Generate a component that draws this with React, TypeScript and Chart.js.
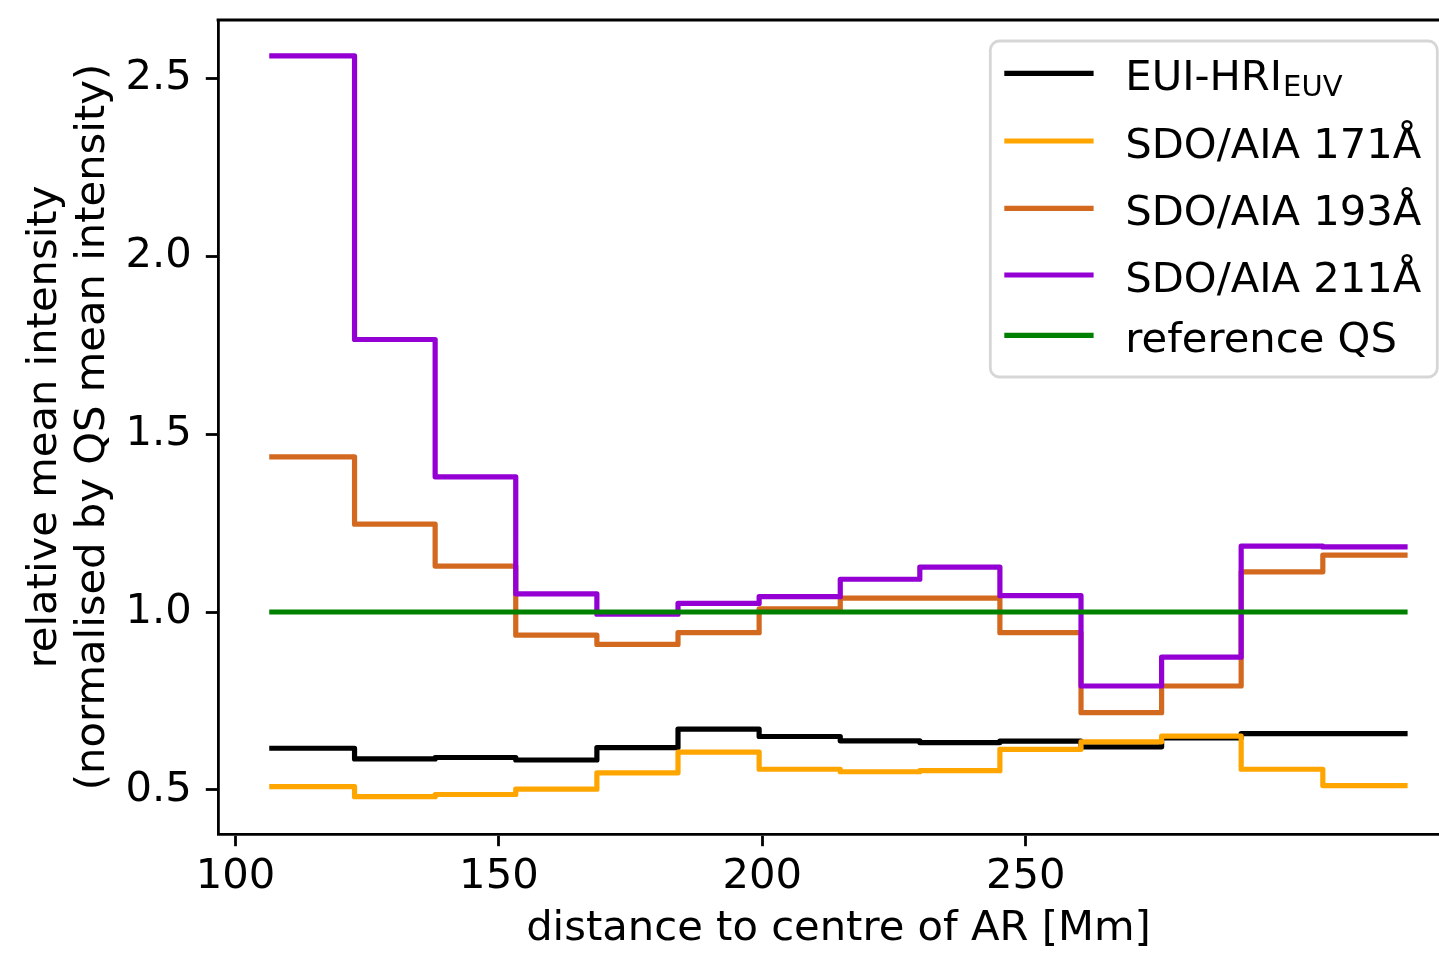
import React, { useEffect, useRef } from "react";
import { Chart, registerables } from "chart.js";

Chart.register(...registerables);

// ---- data ----
const binEdges = [106.9, 122.6, 137.9, 153.2, 168.6, 184.0, 199.4, 214.8, 229.9, 245.1, 260.5, 275.8, 290.9, 306.4, 322.0];
const euiHri = [0.617, 0.587, 0.591, 0.584, 0.619, 0.671, 0.650, 0.638, 0.633, 0.637, 0.621, 0.646, 0.658, 0.658];
const aia171 = [0.509, 0.481, 0.487, 0.502, 0.548, 0.606, 0.558, 0.551, 0.554, 0.614, 0.635, 0.651, 0.558, 0.512];
const aia193 = [1.436, 1.247, 1.129, 0.935, 0.909, 0.942, 1.009, 1.039, 1.039, 0.942, 0.717, 0.792, 1.113, 1.160];
const aia211 = [2.563, 1.766, 1.380, 1.051, 0.994, 1.024, 1.043, 1.092, 1.126, 1.046, 0.792, 0.873, 1.185, 1.183];
const qsReference = 1.0;

const seriesLabels = ["EUI-HRI_EUV", "SDO/AIA 171Å", "SDO/AIA 193Å", "SDO/AIA 211Å", "reference QS"];
const seriesColors = ["#000000", "#FFA500", "#D2691E", "#9400D3", "#008000"];

const xTickValues = [100, 150, 200, 250];
const yTickValues = [0.5, 1.0, 1.5, 2.0, 2.5];
const X_MIN = 96.68;
const X_MAX = 332.25;
const Y_MIN = 0.376;
const Y_MAX = 2.664;

const xTitle = "distance to centre of AR [Mm]";
const yTitle = ["relative mean intensity", "(normalised by QS mean intensity)"];

// ---- helpers ----
const FONT = "'DejaVu Sans', 'Liberation Sans', sans-serif";
const FS = 41.7;

const toSteps = (vals: number[]) => [
  ...vals.map((v, i) => ({ x: binEdges[i], y: v })),
  { x: binEdges[binEdges.length - 1], y: vals[vals.length - 1] },
];

const qsLine = [
  { x: binEdges[0], y: qsReference },
  { x: binEdges[binEdges.length - 1], y: qsReference },
];

const CANVAS_W = 1480;
const CANVAS_H = 954;

const spinePlugin = {
  id: "topSpine",
  afterDatasetsDraw(chart: any) {
    const { ctx, chartArea: ca } = chart;
    ctx.save();
    ctx.strokeStyle = "#000";
    ctx.lineWidth = 2.8;
    ctx.beginPath();
    ctx.moveTo(ca.left - 1.4, ca.top);
    ctx.lineTo(ca.right + 1.4, ca.top);
    ctx.moveTo(ca.right, ca.top);
    ctx.lineTo(ca.right, ca.bottom);
    ctx.stroke();
    ctx.restore();
  },
};

const legendPlugin = {
  id: "mplLegend",
  afterDraw(chart: any) {
    const { ctx, chartArea: ca } = chart;
    const w = 447;
    const h = 336;
    const right = ca.right - 21.7;
    const top = ca.top + 21;
    const left = right - w;
    ctx.save();
    ctx.beginPath();
    ctx.roundRect(left, top, w, h, 9);
    ctx.fillStyle = "rgba(255,255,255,0.8)";
    ctx.fill();
    ctx.lineWidth = 2.8;
    ctx.strokeStyle = "rgba(204,204,204,0.8)";
    ctx.stroke();
    const rows = [32.3, 100, 167.3, 234, 294.3];
    chart.data.datasets.forEach((ds: any, i: number) => {
      const y = top + rows[i];
      ctx.beginPath();
      ctx.moveTo(left + 14, y);
      ctx.lineTo(left + 103.3, y);
      ctx.strokeStyle = ds.borderColor;
      ctx.lineWidth = 5.2;
      ctx.lineCap = "butt";
      ctx.stroke();
      const parts = String(ds.label).split("_");
      ctx.fillStyle = "#000";
      ctx.textAlign = "left";
      ctx.textBaseline = "alphabetic";
      ctx.font = `${FS}px ${FONT}`;
      ctx.fillText(parts[0], left + 135, y + 17);
      if (parts[1]) {
        const mw = ctx.measureText(parts[0]).width;
        ctx.font = `29px ${FONT}`;
        ctx.fillText(parts[1], left + 135 + mw + 1, y + 22.5);
      }
    });
    ctx.restore();
  },
};

export default function App() {
  const canvasRef = useRef<HTMLCanvasElement | null>(null);

  useEffect(() => {
    if (!canvasRef.current) return;
    const seriesData = [toSteps(euiHri), toSteps(aia171), toSteps(aia193), toSteps(aia211), qsLine];
    const drawOrder = [5, 4, 3, 2, 1];
    const chart = new Chart(canvasRef.current, {
      type: "line",
      data: {
        datasets: seriesData.map((d, i) => ({
          label: seriesLabels[i],
          data: d,
          borderColor: seriesColors[i],
          backgroundColor: seriesColors[i],
          borderWidth: 5.2,
          pointRadius: 0,
          pointHoverRadius: 0,
          stepped: true,
          fill: false,
          tension: 0,
          borderJoinStyle: "round",
          borderCapStyle: "square",
          order: drawOrder[i],
        })),
      },
      options: {
        animation: false,
        responsive: false,
        maintainAspectRatio: false,
        devicePixelRatio: 1,
        events: [],
        layout: { padding: { left: 0, top: 20, right: CANVAS_W - 1459, bottom: 0 } },
        plugins: {
          legend: { display: false },
          tooltip: { enabled: false },
        },
        scales: {
          x: {
            type: "linear",
            min: X_MIN,
            max: X_MAX,
            afterBuildTicks: (scale: any) => {
              scale.ticks = xTickValues.map((v) => ({ value: v }));
            },
            afterFit: (scale: any) => {
              scale.height = CANVAS_H - 834;
              scale.paddingLeft = 0;
              scale.paddingRight = 0;
              scale.paddingTop = 0;
              scale.paddingBottom = 0;
            },
            ticks: {
              color: "#000",
              font: { family: FONT, size: FS },
              padding: 6,
              maxRotation: 0,
              autoSkip: false,
              callback: (v: any) => String(v),
            },
            grid: {
              display: true,
              drawOnChartArea: false,
              drawTicks: true,
              tickLength: 12.2,
              tickWidth: 2.8,
              tickColor: "#000",
            },
            border: { display: true, color: "#000", width: 2.8 },
            title: {
              display: true,
              text: xTitle,
              color: "#000",
              font: { family: FONT, size: FS, lineHeight: 1.13 },
              padding: { top: 0, bottom: 1.5 },
            },
          },
          y: {
            type: "linear",
            min: Y_MIN,
            max: Y_MAX,
            afterBuildTicks: (scale: any) => {
              scale.ticks = yTickValues.map((v) => ({ value: v }));
            },
            afterFit: (scale: any) => {
              scale.width = 218;
              scale.paddingLeft = 0;
              scale.paddingRight = 0;
              scale.paddingTop = 0;
              scale.paddingBottom = 0;
            },
            ticks: {
              color: "#000",
              font: { family: FONT, size: FS },
              padding: 14,
              autoSkip: false,
              callback: (v: any) => Number(v).toFixed(1),
            },
            grid: {
              display: true,
              drawOnChartArea: false,
              drawTicks: true,
              tickLength: 12.2,
              tickWidth: 2.8,
              tickColor: "#000",
            },
            border: { display: true, color: "#000", width: 2.8 },
            title: {
              display: true,
              text: yTitle,
              color: "#000",
              font: { family: FONT, size: FS, lineHeight: 1.13 },
              padding: { top: 22, bottom: 0 },
            },
          },
        },
      },
      plugins: [spinePlugin, legendPlugin],
    } as any);
    return () => chart.destroy();
  }, []);

  return (
    <div
      style={{
        position: "fixed",
        left: 0,
        top: 0,
        width: 1439,
        height: 954,
        overflow: "hidden",
        background: "#fff",
      }}
    >
      <canvas
        ref={canvasRef}
        width={CANVAS_W}
        height={CANVAS_H}
        style={{ width: CANVAS_W, height: CANVAS_H, display: "block" }}
      />
    </div>
  );
}
